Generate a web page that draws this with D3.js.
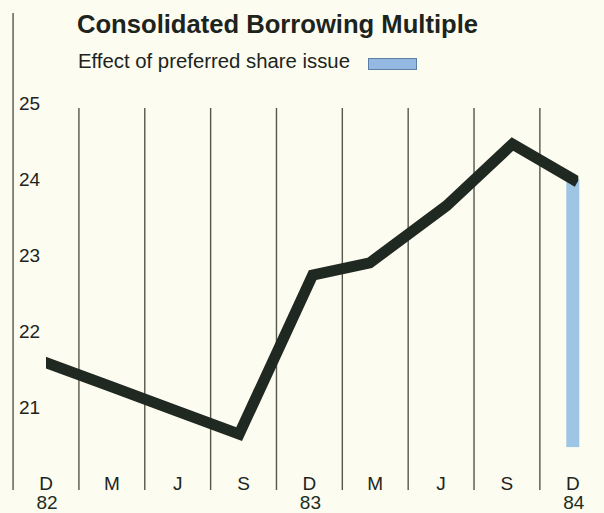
<!DOCTYPE html>
<html>
<head>
<meta charset="utf-8">
<script src="https://cdn.jsdelivr.net/npm/d3@7"></script>
<style>
  html, body { margin: 0; padding: 0; background: #fcfcf1; }
  svg { display: block; }
  text { font-family: "Liberation Sans", Arial, Helvetica, sans-serif; }
</style>
</head>
<body>
<svg id="chart" width="604" height="513"></svg>
<script>
// Quarter-end observations, Dec 1982 .. Dec 1984 (months after Dec 1982)
const months   = [0, 3, 6, 8.8, 12.15, 14.75, 18.25, 21.25, 24];
const multiple = [21.59, 21.27, 20.95, 20.65, 22.74, 22.90, 23.65, 24.46, 24.0];

// Effect of the preferred share issue on the final quarter
const effectMonth = 24;
const effectFrom  = 24.0;
const effectTo    = 20.48;

const quarterMonths = [0, 3, 6, 9, 12, 15, 18, 21, 24];
const quarterLabels = ["D", "M", "J", "S", "D", "M", "J", "S", "D"];
const yearMonths    = [0, 12, 24];
const yearLabels    = ["82", "83", "84"];
const yTicks        = [21, 22, 23, 24, 25];

const title    = "Consolidated Borrowing Multiple";
const subtitle = "Effect of preferred share issue";

const ink = "#1c241d";
const gridColor = "#55574a";
const effectBlue = "#9fc5e5";
const lineWidth = 11;

const svg = d3.select("#chart");

const x = d3.scaleLinear().domain([0, 24]).range([46, 572.8]);
const y = d3.scaleLinear().domain([21, 25]).range([407.5, 103]);

// Frame: left rule and quarter dividers
const dividers = d3.range(-1.5, 23, 3);
svg.append("g").selectAll("line")
  .data(dividers)
  .join("line")
  .attr("x1", d => x(d)).attr("x2", d => x(d))
  .attr("y1", d => d < 0 ? 13 : 108)
  .attr("y2", 490)
  .attr("stroke", gridColor)
  .attr("stroke-width", 1.4);

// Title and legend
svg.append("text")
  .attr("x", 77).attr("y", 33)
  .attr("font-size", 25.5).attr("font-weight", "bold")
  .attr("fill", ink)
  .attr("textLength", 401).attr("lengthAdjust", "spacingAndGlyphs")
  .text(title);

svg.append("text")
  .attr("x", 78).attr("y", 68)
  .attr("font-size", 20)
  .attr("fill", ink)
  .attr("textLength", 272).attr("lengthAdjust", "spacingAndGlyphs")
  .text(subtitle);

svg.append("rect")
  .attr("x", 368.5).attr("y", 58.5)
  .attr("width", 48).attr("height", 11)
  .attr("fill", "#93b9e2")
  .attr("stroke", "#5d7fa5").attr("stroke-width", 1);

// Y labels
svg.append("g").selectAll("text")
  .data(yTicks)
  .join("text")
  .attr("x", 19)
  .attr("y", d => y(d))
  .attr("dy", "0.36em")
  .attr("font-size", 19)
  .attr("fill", ink)
  .text(d => d);

// Quarter and year labels
svg.append("g").selectAll("text")
  .data(quarterMonths)
  .join("text")
  .attr("x", d => x(d))
  .attr("y", 490)
  .attr("text-anchor", "middle")
  .attr("font-size", 19)
  .attr("fill", ink)
  .text((d, i) => quarterLabels[i]);

svg.append("g").selectAll("text")
  .data(yearMonths)
  .join("text")
  .attr("x", d => x(d) + 1)
  .attr("y", 509)
  .attr("text-anchor", "middle")
  .attr("font-size", 19)
  .attr("fill", "#1d2e22")
  .text((d, i) => yearLabels[i]);

// Preferred share effect bar
svg.append("rect")
  .attr("x", x(effectMonth) - 6.5)
  .attr("width", 13)
  .attr("y", y(effectFrom))
  .attr("height", y(effectTo) - y(effectFrom))
  .attr("fill", effectBlue);

// Borrowing multiple line, cut square at both ends
svg.append("clipPath").attr("id", "lineClip")
  .append("rect")
  .attr("x", x(0)).attr("y", 0)
  .attr("width", x(24) - x(0) + lineWidth / 2)
  .attr("height", 513);

const series = months.map((m, i) => ({ m, v: multiple[i] }));
const line = d3.line().x(d => x(d.m)).y(d => y(d.v));

svg.append("path")
  .datum(series)
  .attr("clip-path", "url(#lineClip)")
  .attr("d", line)
  .attr("fill", "none")
  .attr("stroke", "#202822")
  .attr("stroke-width", lineWidth)
  .attr("stroke-linejoin", "miter")
  .attr("stroke-linecap", "square");
</script>
</body>
</html>
